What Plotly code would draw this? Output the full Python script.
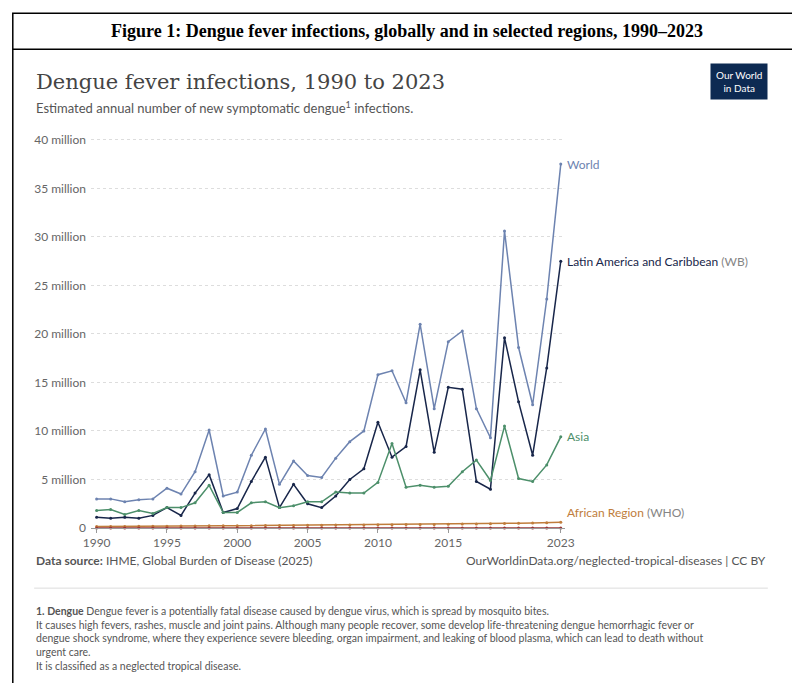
import plotly.graph_objects as go

years = list(range(1990, 2024))
world = [3.0, 3.0, 2.7, 2.9, 3.0, 4.1, 3.5, 5.8, 10.1, 3.3, 3.7, 7.5, 10.2, 4.5, 6.9, 5.4, 5.2, 7.2,
         8.9, 10.0, 15.8, 16.2, 12.9, 21.0, 12.3, 19.2, 20.3, 12.3, 9.3, 30.6, 18.6, 12.7, 23.6, 37.5]
latam = [1.1, 1.0, 1.1, 1.0, 1.3, 2.1, 1.3, 3.6, 5.5, 1.6, 2.0, 4.8, 7.3, 2.1, 4.5, 2.5, 2.1, 3.3,
         5.0, 6.1, 10.9, 7.3, 8.4, 16.3, 7.8, 14.5, 14.3, 4.8, 4.0, 19.6, 13.0, 7.5, 16.5, 27.5]
asia = [1.8, 1.9, 1.4, 1.8, 1.5, 2.1, 2.1, 2.6, 4.4, 1.6, 1.6, 2.6, 2.7, 2.1, 2.3, 2.7, 2.7, 3.7,
        3.6, 3.6, 4.7, 8.7, 4.2, 4.4, 4.2, 4.3, 5.8, 7.0, 4.9, 10.5, 5.1, 4.8, 6.5, 9.4]
africa = [0.15, 0.15, 0.16, 0.17, 0.18, 0.19, 0.2, 0.21, 0.22, 0.22, 0.23, 0.24, 0.25, 0.26, 0.27, 0.28,
          0.29, 0.3, 0.31, 0.32, 0.33, 0.34, 0.35, 0.36, 0.37, 0.38, 0.4, 0.42, 0.44, 0.47, 0.5, 0.52, 0.55, 0.6]
europe = [0.01] * 34

series = [
    ("World", world, "#6d83b0", "World"),
    ("Latin America and Caribbean (WB)", latam, "#18264a", "Latin America and Caribbean <span style='color:#858585'>(WB)</span>"),
    ("Asia", asia, "#4c8f6a", "Asia"),
    ("African Region (WHO)", africa, "#c07d3c", "African Region <span style='color:#858585'>(WHO)</span>"),
    ("European Region (WHO)", europe, "#9a3535", "European Region <span style='color:#858585'>(WHO)</span>"),
]
label_y = [37.5, 27.5, 9.4, 1.6, -0.5]

fig = go.Figure()
for (name, vals, col, lab), ly in zip(series, label_y):
    fig.add_trace(go.Scatter(x=years, y=vals, name=name, mode="lines+markers",
                             line=dict(color=col, width=1.5), marker=dict(size=3, color=col),
                             showlegend=False, cliponaxis=False))
    fig.add_annotation(x=2023, y=ly, text=lab, xref="x", yref="y", xanchor="left", xshift=4,
                       showarrow=False, font=dict(size=12, color=col, family="Lato"))

fig.update_xaxes(range=[1989.6, 2023.3], tickvals=[1990, 1995, 2000, 2005, 2010, 2015, 2023],
                 showgrid=False, showline=True, linecolor="#999", ticks="outside", ticklen=4,
                 tickcolor="#999", tickfont=dict(size=12, color="#666"))
fig.update_yaxes(range=[0, 40.5], tickvals=[0, 5, 10, 15, 20, 25, 30, 35, 40],
                 ticktext=["0", "5 million", "10 million", "15 million", "20 million", "25 million",
                           "30 million", "35 million", "40 million"],
                 gridcolor="#ddd", griddash="dot", zeroline=False, tickfont=dict(size=12, color="#666"),
                 ticklabelstandoff=4)

fig.add_shape(type="rect", xref="paper", yref="paper", x0=-0.165, x1=1.5, y0=-0.405, y1=1.31,
              line=dict(color="black", width=1.5))
fig.add_shape(type="line", xref="paper", yref="paper", x0=-0.165, x1=1.5, y0=1.218, y1=1.218,
              line=dict(color="black", width=1.5))
fig.add_annotation(x=0.667, xref="paper", y=1.265, yref="paper", xanchor="center", yanchor="middle",
                   text="<b>Figure 1: Dengue fever infections, globally and in selected regions, 1990–2023</b>",
                   showarrow=False, font=dict(family="Liberation Serif", size=18, color="black"))
fig.add_annotation(x=-0.12, xref="paper", y=1.135, yref="paper", xanchor="left", yanchor="middle",
                   text="Dengue fever infections, 1990 to 2023", showarrow=False,
                   font=dict(family="DejaVu Serif", size=21, color="#444"))
fig.add_annotation(x=-0.12, xref="paper", y=1.07, yref="paper", xanchor="left", yanchor="middle",
                   text="Estimated annual number of new symptomatic dengue<sup>1</sup> infections.",
                   showarrow=False, font=dict(family="Lato", size=13, color="#555"))
fig.add_annotation(x=1.428, xref="paper", y=1.135, yref="paper", xanchor="right", yanchor="middle",
                   text="Our World<br>in Data", showarrow=False, bgcolor="#0d2a52", borderpad=5,
                   font=dict(family="Lato", size=10, color="white"))
fig.add_annotation(x=-0.12, xref="paper", y=-0.083, yref="paper", xanchor="left", yanchor="middle",
                   text="<b>Data source:</b> IHME, Global Burden of Disease (2025)", showarrow=False,
                   font=dict(family="Lato", size=12, color="#555"))
fig.add_annotation(x=1.428, xref="paper", y=-0.083, yref="paper", xanchor="right", yanchor="middle",
                   text="OurWorldinData.org/neglected-tropical-diseases | CC BY", showarrow=False,
                   font=dict(family="Lato", size=12, color="#555"))
fig.add_shape(type="line", xref="paper", yref="paper", x0=-0.12, x1=1.428, y0=-0.153, y1=-0.153,
              line=dict(color="#ddd", width=1))
fig.add_annotation(x=-0.12, xref="paper", y=-0.19, yref="paper", xanchor="left", yanchor="top",
                   align="left", showarrow=False, font=dict(family="Lato", size=10.5, color="#555"),
                   text="<b>1. Dengue</b> Dengue fever is a potentially fatal disease caused by dengue virus, which is spread by mosquito bites.<br>"
                        "It causes high fevers, rashes, muscle and joint pains. Although many people recover, some develop life-threatening dengue hemorrhagic fever or<br>"
                        "dengue shock syndrome, where they experience severe bleeding, organ impairment, and leaking of blood plasma, which can lead to death without<br>"
                        "urgent care.<br>It is classified as a neglected tropical disease.")

fig.update_layout(width=800, height=683, plot_bgcolor="white", paper_bgcolor="white",
                  margin=dict(l=83, r=243, t=127, b=163), font=dict(family="Lato"))
fig.write_html("out.html")
